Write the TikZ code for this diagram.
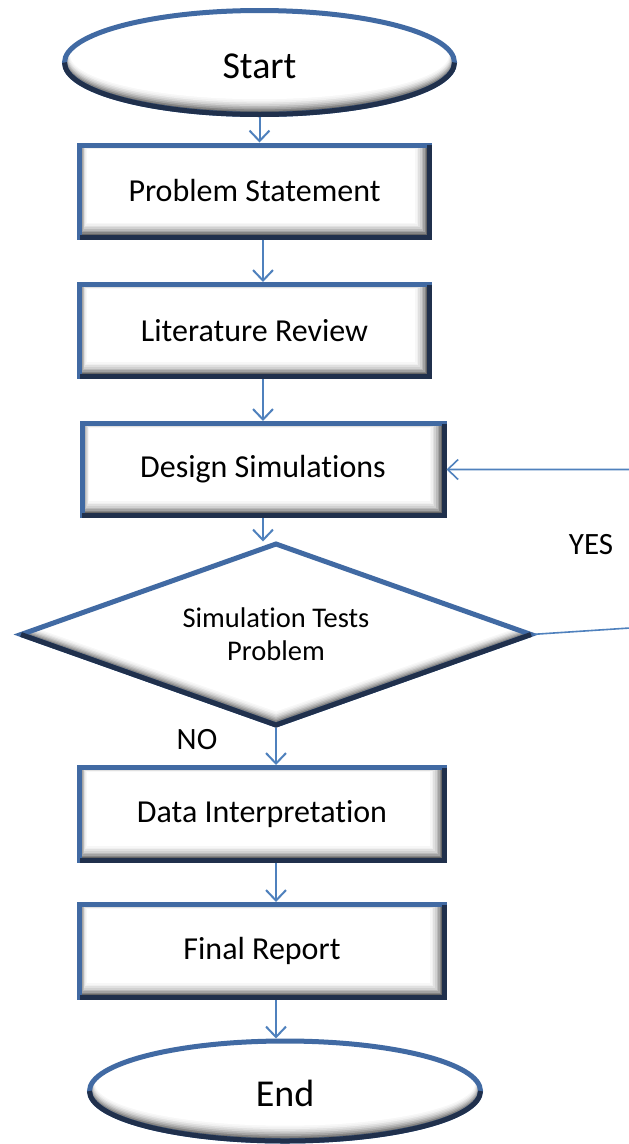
\documentclass[tikz,border=0pt]{standalone}
\usepackage{fontspec}
\setmainfont{Carlito}[Ligatures=NoCommon]
\usetikzlibrary{shapes.geometric,arrows.meta,calc}

\definecolor{rimblue}{RGB}{65,106,163}
\definecolor{rimdark}{RGB}{32,48,76}
\definecolor{linkblue}{RGB}{79,129,189}

\tikzset{
  rim/.style={draw=rimdark, line width=5pt, line join=miter},
  solid3d/.style={fill=white, draw=rimblue, line width=5pt, line join=miter,
    inner sep=0pt, outer sep=0pt},
  % rectangular process step with a bevelled lower/right edge
  stepbox/.style 2 args={solid3d, rectangle, minimum width=#1, minimum height=#2,
    font=\fontsize{32}{38}\selectfont,
    path picture={
      \foreach \i [evaluate=\i as \g using {int(75*(1-\i/10)*(1-\i/10))}] in {0,...,10}{
        \fill[black!\g]
          ([shift={(\i*0.8pt,\i*1.6pt)}]path picture bounding box.south west)
          rectangle
          ([shift={(-\i*1.6pt,-\i*0.45pt)}]path picture bounding box.north east);
      }
    }},
  % terminal (start / end) with a bevelled lower rim
  capsule/.style 2 args={solid3d, ellipse, minimum width=#1, minimum height=#2,
    font=\fontsize{38}{45}\selectfont, text height=32pt,
    path picture={
      \foreach \i [evaluate=\i as \g using {int(75*(1-\i/10)*(1-\i/10))}] in {0,...,10}{
        \fill[black!\g] ([yshift=\i*0.85pt]path picture bounding box.center)
          ellipse [x radius={#1/2-\i*0.6pt}, y radius={#2/2-\i*0.85pt}];
      }
    }},
  % decision
  choice/.style={solid3d, diamond, minimum width=510pt, minimum height=181pt,
    shape aspect=2.8, align=center, font=\fontsize{28.5}{33}\selectfont,
    path picture={
      \foreach \i [evaluate=\i as \g using {int(75*(1-\i/10)*(1-\i/10))}] in {0,...,10}{
        \fill[black!\g] (path picture bounding box.north)
          -- ([shift={(\i*1.5pt,\i*0.75pt)}]path picture bounding box.west)
          -- ([yshift=\i*1.5pt]path picture bounding box.south)
          -- ([shift={(-\i*1.5pt,\i*0.75pt)}]path picture bounding box.east)
          -- cycle;
      }
    }},
  flow/.style={draw=linkblue, line width=2pt,
    -{Straight Barb[length=10.5pt,width=20pt]}, shorten >=2.5pt, shorten <=2.5pt},
  loopback/.style={flow, line width=1.6pt},
  lbl/.style={font=\fontsize{31}{36}\selectfont, inner sep=0pt}
}

\newcommand\boxrim[1]{\draw[rim] (#1.north east) -- (#1.south east) -- (#1.south west);}

\begin{document}
\begin{tikzpicture}[x=1pt, y=-1pt]
  \useasboundingbox (0,0) rectangle (629,1144);
  \fill[white] (0,0) rectangle (629,1144);

  % shapes
  \node[capsule={390pt}{104pt}] (start) at (259.5,62.5) {Start};
  \node[stepbox={350pt}{92pt}] (p1) at (254.5,191) {Problem Statement};
  \node[stepbox={350pt}{92pt}] (p2) at (254.5,330.5) {Literature Review};
  \node[stepbox={362pt}{92pt}] (p3) at (263,469.5) {Design Simulations};
  \node[choice] (dia) at (276,634.5) {Simulation Tests\\Problem};
  \node[stepbox={365pt}{93pt}] (p4) at (262,814) {Data Interpretation};
  \node[stepbox={365pt}{93pt}] (p5) at (262,951) {Final Report};
  \node[capsule={391pt}{100pt}] (end) at (285,1091) {End};

  % dark lower/right rims
  \draw[rim] (start.west) arc[start angle=180, end angle=360, x radius=195pt, y radius=52pt];
  \draw[rim] (end.west) arc[start angle=180, end angle=360, x radius=195.5pt, y radius=50pt];
  \boxrim{p1}
  \boxrim{p2}
  \boxrim{p3}
  \boxrim{p4}
  \boxrim{p5}
  \draw[rim] (dia.west) -- (dia.south) -- (dia.east);

  % branch labels
  \node[lbl] (yes) at (591,545) {YES};
  \node[lbl] (no) at (197,740) {NO};

  % connectors
  \draw[flow] (start.south) -- (start.south |- p1.north);
  \draw[flow] (p3.south |- p1.south) -- (p3.south |- p2.north);
  \draw[flow] (p3.south |- p2.south) -- (p3.north);
  \draw[flow] (p3.south) -- (p3.south |- dia.north);
  \draw[flow] (dia.south) -- (dia.south |- p4.north);
  \draw[flow] (dia.south |- p4.south) -- (dia.south |- p5.north);
  \draw[flow] (dia.south |- p5.south) -- (dia.south |- end.north);

  % YES branch loops back to the design step
  \begin{scope}
    \clip (0,0) rectangle (629,1144);
    \coordinate (turn) at (660,626);
    \draw[loopback] (dia.east) -- (turn) -- (turn |- p3.east) -- (p3.east);
  \end{scope}
\end{tikzpicture}
\end{document}
